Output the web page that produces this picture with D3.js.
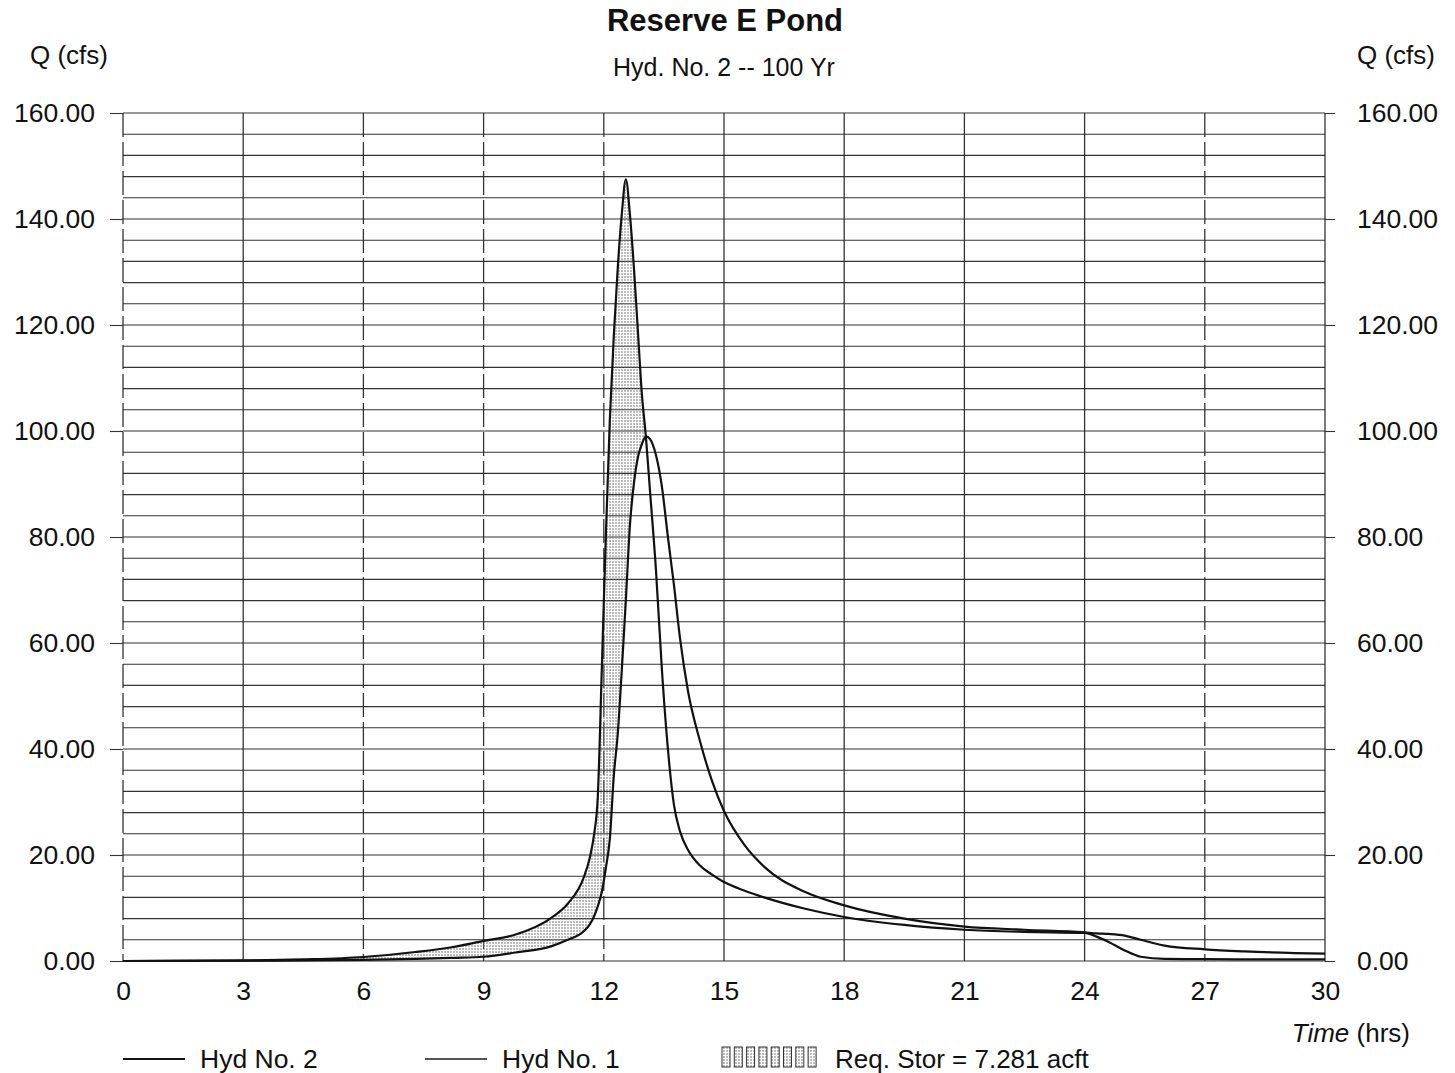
<!DOCTYPE html>
<html>
<head>
<meta charset="utf-8">
<script src="https://cdn.jsdelivr.net/npm/d3@7/dist/d3.min.js"></script>
<style>
body{margin:0;background:#fff;}
text{font-family:"Liberation Sans",Arial,sans-serif;fill:#111;}
</style>
</head>
<body>
<div id="chart"></div>
<script>
// hydrograph values (time in hrs, Q in cfs)
var times=[0,3,4.5,6,7.3,8.2,9,9.8,10.7,11.1,11.5,11.65,11.75,11.85,11.95,12.05,12.15,12.25,12.35,12.45,12.55,12.65,12.75,12.85,12.95,13.05,13.15,13.3,13.45,13.6,13.75,13.9,14.1,14.4,14.7,15,15.5,16,17,18,19.5,21,22.5,24,24.3,24.6,25,25.4,26,27,28,30];
var hyd1Flow=[0,0.1,0.3,0.75,1.7,2.6,3.8,5,8.2,10.8,15.8,19.5,23.5,31,55,80,102,118,131,141,147.5,141,131,119,107,99,89,74,55,40,29.5,24.5,21,18,16.3,14.9,13.3,12,9.9,8.3,6.8,5.9,5.5,5.3,4.6,3.6,2,0.8,0.4,0.35,0.3,0.3];
var hyd2Flow=[0,0.05,0.1,0.2,0.4,0.6,0.8,1.6,2.8,4,5.6,6.9,8.3,10.3,13,17.5,23,35,43,55,68,82,90,95,97.5,99,98.5,95.5,89.5,80,71,61,51,41.5,34,28.3,22,17.8,13.1,10.5,8,6.5,5.9,5.4,5.2,5.1,4.8,4,2.9,2.2,1.8,1.4];
var xTicks=[0,3,6,9,12,15,18,21,24,27,30];
var yTicks=[0,20,40,60,80,100,120,140,160];
var dashedHours=[0,6,9,12,27];
var legendNames=["Hyd No. 2","Hyd No. 1"];
var storageText="Req. Stor = 7.281 acft";

var wide=1455;
var high=1073;
var svg=d3
  .select("#chart")
  .append("svg")
  .attr("width",wide)
  .attr("height",high);

var defs=svg.append("defs");
var pat=defs
  .append("pattern")
  .attr("id","hatch")
  .attr("patternUnits","userSpaceOnUse")
  .attr("width",3)
  .attr("height",3);
pat
  .append("line")
  .attr("x1",1).attr("y1",0)
  .attr("x2",1).attr("y2",3)
  .attr("stroke","#777")
  .attr("stroke-width",1)
  .attr("stroke-dasharray","2,1");

var xscale=d3.scaleLinear().domain([0,30]).range([123,1325]);
var yscale=d3.scaleLinear().domain([0,160]).range([961,113]);

var rows=times.map(function(t,i){
  return {t:t,q1:hyd1Flow[i],q2:hyd2Flow[i]};
});

// horizontal grid every 4 cfs
svg
  .append("g")
  .selectAll("line")
  .data(d3.range(0,161,4))
  .enter()
  .append("line")
  .attr("x1",xscale(0))
  .attr("x2",xscale(30))
  .attr("y1",function(d){return yscale(d);})
  .attr("y2",function(d){return yscale(d);})
  .attr("stroke","#333")
  .attr("stroke-width",1.1);

// vertical grid
svg
  .append("g")
  .selectAll("line")
  .data(xTicks)
  .enter()
  .append("line")
  .attr("x1",function(d){return xscale(d);})
  .attr("x2",function(d){return xscale(d);})
  .attr("y1",yscale(160))
  .attr("y2",yscale(0))
  .attr("stroke","#333")
  .attr("stroke-width",1.3)
  .attr("stroke-dasharray",function(d){
    return dashedHours.indexOf(d)>=0?"24,5":null;
  });

var yfmt=d3.format(".2f");
var leftAxis=svg
  .append("g")
  .attr("transform","translate("+xscale(0)+",0)")
  .call(d3.axisLeft(yscale).tickValues(yTicks).tickFormat(yfmt).tickSize(13).tickPadding(15));
var rightAxis=svg
  .append("g")
  .attr("transform","translate("+xscale(30)+",0)")
  .call(d3.axisRight(yscale).tickValues(yTicks).tickFormat(yfmt).tickSize(10).tickPadding(22));
var bottomAxis=svg
  .append("g")
  .attr("transform","translate(0,"+yscale(0)+")")
  .call(d3.axisBottom(xscale).tickValues(xTicks).tickSize(0).tickPadding(20));
[leftAxis,rightAxis,bottomAxis].forEach(function(a){
  a.select(".domain").remove();
  a.selectAll("line").attr("stroke","#333").attr("stroke-width",1.1);
  a.selectAll("text").attr("font-size",26.5).attr("fill","#111").style("font-family","Liberation Sans, Arial, sans-serif");
});

// storage area between inflow and outflow
var area=d3
  .area()
  .curve(d3.curveMonotoneX)
  .x(function(d){return xscale(d.t);})
  .y0(function(d){return yscale(d.q2);})
  .y1(function(d){return yscale(Math.max(d.q1,d.q2));});
svg
  .append("path")
  .datum(rows.filter(function(d){return d.t<=13.05;}))
  .attr("d",area)
  .attr("fill","url(#hatch)");

var line1=d3.line().curve(d3.curveMonotoneX).x(function(d){return xscale(d.t);}).y(function(d){return yscale(d.q1);});
var line2=d3.line().curve(d3.curveMonotoneX).x(function(d){return xscale(d.t);}).y(function(d){return yscale(d.q2);});
svg.append("path").datum(rows).attr("d",line1).attr("fill","none").attr("stroke","#111").attr("stroke-width",2.2);
svg.append("path").datum(rows).attr("d",line2).attr("fill","none").attr("stroke","#111").attr("stroke-width",2.2);

// titles
svg.append("text").attr("x",725).attr("y",31).attr("text-anchor","middle")
  .attr("font-size",31).attr("font-weight","bold").text("Reserve E Pond");
svg.append("text").attr("x",724).attr("y",76).attr("text-anchor","middle")
  .attr("font-size",25).text("Hyd. No. 2 -- 100 Yr");
svg.append("text").attr("x",30).attr("y",64).attr("font-size",26).text("Q (cfs)");
svg.append("text").attr("x",1435).attr("y",64).attr("text-anchor","end").attr("font-size",26).text("Q (cfs)");
var tl=svg.append("text").attr("x",1410).attr("y",1042).attr("text-anchor","end").attr("font-size",26);
tl.append("tspan").attr("font-style","italic").text("Time");
tl.append("tspan").text(" (hrs)");

// legend
var lg=svg.append("g").attr("class","legend");
[123,425].forEach(function(x,i){
  lg.append("line").attr("x1",x).attr("x2",x+62).attr("y1",1059).attr("y2",1059)
    .attr("stroke",i===0?"#111":"#555").attr("stroke-width",2);
  lg.append("text").attr("x",x+77).attr("y",1068).attr("font-size",26.5).text(legendNames[i]);
});
d3.range(8).forEach(function(i){
  lg.append("rect").attr("x",722+i*12.3).attr("y",1047).attr("width",8).attr("height",20)
    .attr("fill","url(#hatch)").attr("stroke","#333").attr("stroke-width",1);
});
lg.append("text").attr("x",835).attr("y",1068).attr("font-size",26).text(storageText);
</script>
</body>
</html>
